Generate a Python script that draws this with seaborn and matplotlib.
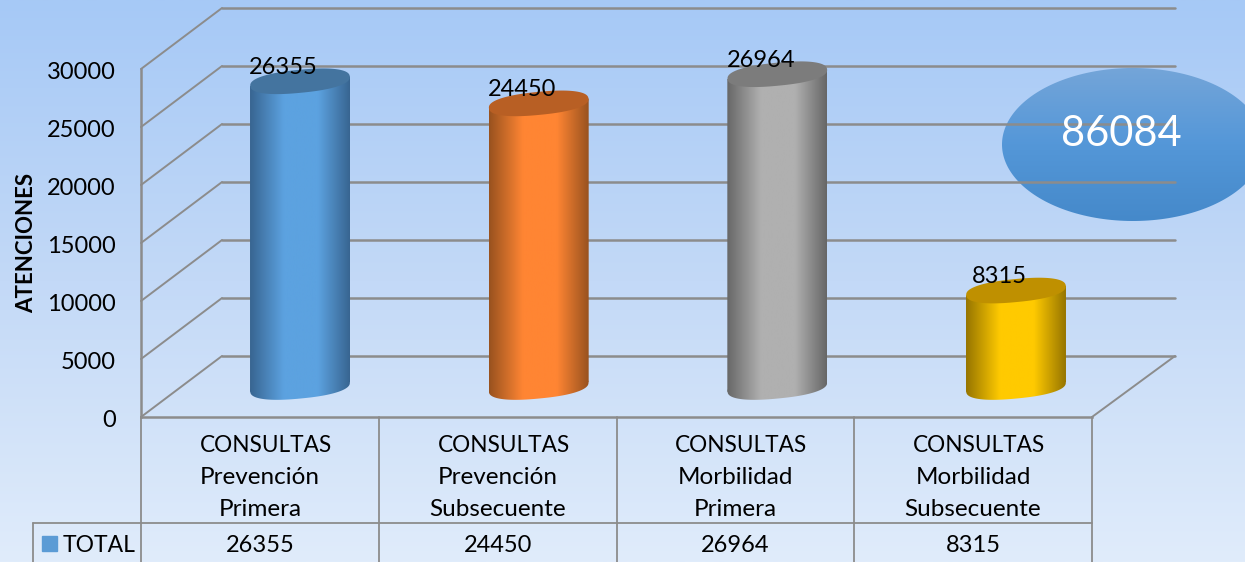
import numpy as np
import seaborn as sns
import matplotlib.pyplot as plt
from matplotlib.colors import LinearSegmentedColormap
from matplotlib.patches import Polygon, Rectangle
from matplotlib.transforms import ScaledTranslation

# Datos
categorias = [
    "CONSULTAS\nPrevención\nPrimera",
    "CONSULTAS\nPrevención\nSubsecuente",
    "CONSULTAS\nMorbilidad\nPrimera",
    "CONSULTAS\nMorbilidad\nSubsecuente",
]
total = [26355, 24450, 26964, 8315]
ticks_y = [0, 5000, 10000, 15000, 20000, 25000, 30000]
total_general = "86084"

# Colores: borde del cilindro, centro, tapa
bordes = ["#386591", "#98521f", "#676767", "#967500"]
centros = ["#5ca2e0", "#ff8533", "#b0b0b0", "#ffca00"]
tapas = ["#44749f", "#b85f24", "#7c7c7c", "#bf9000"]
gris = "#8c8c8c"

ANCHO, ALTO = 1245, 562
LARGO_Y = 348  # pixeles entre 0 y 30000

sns.set_theme(style="white")
plt.rcParams["font.family"] = ["Lato", "DejaVu Sans"]

fig = plt.figure(figsize=(ANCHO / 100, ALTO / 100), dpi=100)


def caja(x0, y0, x1, y1):
    # rectangulo en pixeles de la imagen (y hacia abajo)
    return [x0 / ANCHO, 1 - y1 / ALTO, (x1 - x0) / ANCHO, (y1 - y0) / ALTO]


# Fondo y lineas 3D en pixeles
fondo = fig.add_axes([0, 0, 1, 1], zorder=1)
fondo.imshow(
    np.linspace(0, 1, 256)[:, None],
    cmap=LinearSegmentedColormap.from_list("fondo", ["#a6c9f6", "#c3d9f7", "#e0ecfb"]),
    extent=(0, ANCHO, ALTO, 0),
    aspect="auto",
)
fondo.set_xlim(0, ANCHO)
fondo.set_ylim(ALTO, 0)
fondo.set_axis_off()

for t in ticks_y:
    frente = 417 - t * LARGO_Y / 30000
    atras = 356 - t * LARGO_Y / 30000
    fondo.plot([141, 222], [frente, atras], color=gris, lw=1.4)
    fondo.plot([222, 1175], [atras, atras], color=gris, lw=1.8)
fondo.plot([1092, 1175], [417, 356], color=gris, lw=1.4)

# Tabla de datos
for x in [141, 379, 617, 854, 1092]:
    fondo.plot([x, x], [417, ALTO], color=gris, lw=1.3)
fondo.plot([33, 1092], [523, 523], color=gris, lw=1.3)
fondo.plot([33, 33], [523, ALTO], color=gris, lw=1.3)
fondo.add_patch(Rectangle((42, 536), 15, 15, color="#5b9bd5"))
fondo.text(63, 545, "TOTAL", fontsize=16.5, ha="left", va="center", color="black")

centros_tabla = [260, 498, 735.5, 973]
for xc, cat, val in zip(centros_tabla, categorias, total):
    lineas = cat.split("\n")
    fondo.text(xc + 6, 445, lineas[0], fontsize=16.3, ha="center", va="center", color="black")
    fondo.text(xc, 477, lineas[1], fontsize=17.5, ha="center", va="center", color="black")
    fondo.text(xc, 510, lineas[2], fontsize=17.5, ha="center", va="center", color="black")
    fondo.text(xc, 545, str(val), fontsize=17, ha="center", va="center", color="black")

# Ovalo con el total
ang = np.linspace(0, 2 * np.pi, 200)
ovalo = Polygon(
    np.column_stack([1133 + 131 * np.cos(ang), 144.5 + 76.5 * np.sin(ang)]),
    transform=fondo.transData, fc="none", ec="none",
)
fondo.add_patch(ovalo)
img = fondo.imshow(
    np.linspace(0, 1, 256)[:, None],
    cmap=LinearSegmentedColormap.from_list("ovalo", ["#74a5d9", "#5497d8", "#4589ca"]),
    extent=(1002, 1264, 221, 68),
    aspect="auto",
)
img.set_clip_path(ovalo)
fondo.set_xlim(0, ANCHO)
fondo.set_ylim(ALTO, 0)
fondo.text(1121, 134, total_general, fontsize=30, color="white", ha="center", va="center")

# Eje de valores (plano frontal)
eje = fig.add_axes(caja(141, 69, 1092, 417), zorder=2)
eje.patch.set_alpha(0)
eje.set_xlim(0, 1)
eje.set_ylim(0, 30000)
eje.set_xticks([])
eje.set_yticks(ticks_y)
eje.tick_params(axis="y", length=0, pad=18, labelsize=17, labelcolor="black")
baja = ScaledTranslation(0, -1.2 / 72, fig.dpi_scale_trans)
for etiqueta in eje.get_yticklabels():
    etiqueta.set_transform(etiqueta.get_transform() + baja)
eje.set_ylabel("ATENCIONES", fontsize=16, fontweight="bold", color="black", labelpad=7)
for lado in ["top", "right"]:
    eje.spines[lado].set_visible(False)
for lado in ["left", "bottom"]:
    eje.spines[lado].set_color(gris)
    eje.spines[lado].set_linewidth(1.8)

# Cilindros: el eje baja un poco de 0 para que quepa la base redonda
ax = fig.add_axes(caja(180.7, 39, 1135.3, 416), zorder=3)
sns.barplot(
    x=categorias,
    y=total,
    hue=categorias,
    palette=centros,
    legend=False,
    width=0.419,
    ax=ax,
)
ax.set_xlim(-0.5, 3.5)
ax.set_ylim(-2500, 30000)
ax.set_axis_off()

px_x = 4 / (1135.3 - 180.7)  # unidades x por pixel
px_y = 30000 / LARGO_Y  # unidades y por pixel
inclinacion = np.radians(5.5)


def elipse(xc, yc, a=50, b=11.5, p=0.85):
    # elipse inclinada, un poco mas cuadrada que la normal
    t = np.linspace(0, 2 * np.pi, 160)
    c = np.sign(np.cos(t)) * np.abs(np.cos(t)) ** p
    s = np.sign(np.sin(t)) * np.abs(np.sin(t)) ** p
    dx = a * c * np.cos(inclinacion) - b * s * np.sin(inclinacion)
    dy = a * c * np.sin(inclinacion) + b * s * np.cos(inclinacion)
    return np.column_stack([xc + dx * px_x, yc + dy * px_y])


for i, barra in enumerate(ax.patches[:len(total)]):
    barra.set_alpha(0)
    x0 = barra.get_x()
    x1 = x0 + barra.get_width()
    h = barra.get_height()
    xc = (x0 + x1) / 2
    sube = 4.8 * px_y

    mapa = LinearSegmentedColormap.from_list(
        f"cil{i}",
        [(0, bordes[i]), (0.34, centros[i]), (0.68, centros[i]), (1, bordes[i])],
    )
    cuerpo = Polygon([(x0, h - sube), (x1, h + sube), (x1, sube), (x0, -sube)],
                     transform=ax.transData, fc="none", ec="none")
    base = Polygon(elipse(xc, 0), transform=ax.transData, fc="none", ec="none")
    ax.add_patch(cuerpo)
    ax.add_patch(base)
    for recorte in [cuerpo, base]:
        im = ax.imshow(
            np.linspace(0, 1, 256)[None, :],
            cmap=mapa,
            extent=(x0, x1, -2000, h + 1000),
            aspect="auto",
            zorder=3,
        )
        im.set_clip_path(recorte)
    ax.add_patch(Polygon(elipse(xc, h), fc=tapas[i], ec="none", zorder=4))
    ax.annotate(
        str(total[i]),
        xy=(xc, h),
        xytext=(-12, 10),
        textcoords="offset points",
        ha="center",
        va="center",
        fontsize=17,
        color="black",
        zorder=5,
        annotation_clip=False,
    )

ax.set_xlim(-0.5, 3.5)
ax.set_ylim(-2500, 30000)

fig.savefig("out.png", dpi=100)
